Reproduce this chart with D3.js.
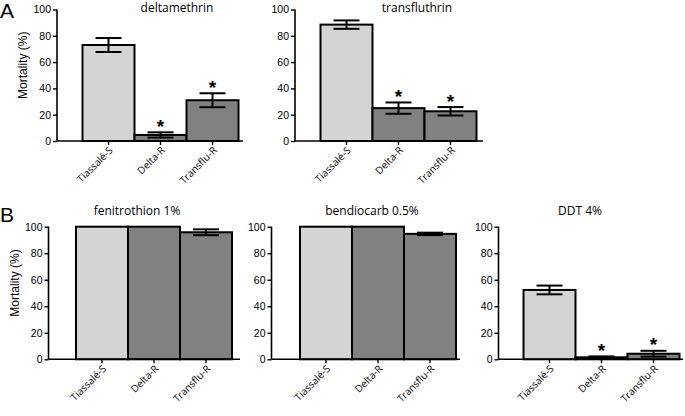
<!DOCTYPE html>
<html><head><meta charset="utf-8">
<script src="https://cdn.jsdelivr.net/npm/d3@7"></script>
<style>body{margin:0;background:#fff}svg{display:block}</style>
</head><body>
<svg id="c" width="685" height="416"></svg>
<script>
// ---- data ----
const groups = ["Tiassalé-S", "Delta-R", "Transflu-R"];
const titles = ["deltamethrin", "transfluthrin", "fenitrothion 1%", "bendiocarb 0.5%", "DDT 4%"];
const yTicks = [0, 20, 40, 60, 80, 100];
const deltamethrinMean = [73, 4.6, 31];
const deltamethrinErr = [5.3, 2, 5.3];
const deltamethrinSig = [false, true, true];
const transfluthrinMean = [88.5, 25, 22.6];
const transfluthrinErr = [3.2, 4.3, 3.2];
const transfluthrinSig = [false, true, true];
const fenitrothionMean = [100, 100, 95.8];
const fenitrothionErr = [0, 0, 2.2];
const fenitrothionSig = [false, false, false];
const bendiocarbMean = [100, 100, 94.6];
const bendiocarbErr = [0, 0, 0.9];
const bendiocarbSig = [false, false, false];
const ddtMean = [52.3, 1.5, 4.2];
const ddtErr = [3.3, 0.7, 2.2];
const ddtSig = [false, true, true];
const groupColors = ["#d4d4d4", "#818181", "#818181"];

const seriesMeans = [deltamethrinMean, transfluthrinMean, fenitrothionMean, bendiocarbMean, ddtMean];
const seriesErrs = [deltamethrinErr, transfluthrinErr, fenitrothionErr, bendiocarbErr, ddtErr];
const seriesSig = [deltamethrinSig, transfluthrinSig, fenitrothionSig, bendiocarbSig, ddtSig];

// ---- layout ----
const layout = [
  {ax: 57, bx: 82.5, end: 243, y0: 141, y1: 9.5, ylab: true, tx: 177, ty: 12},
  {ax: 295, bx: 320.5, end: 483, y0: 141, y1: 9.5, ylab: false, tx: 417, ty: 12},
  {ax: 48.5, bx: 76, end: 240, y0: 359.3, y1: 226.7, ylab: true, tx: 137, ty: 215},
  {ax: 271.5, bx: 300, end: 460, y0: 359.3, y1: 226.7, ylab: false, tx: 372, ty: 215},
  {ax: 498.5, bx: 523.5, end: 683, y0: 359.3, y1: 226.7, ylab: false, tx: 580, ty: 215}
];
const BW = 52;
const svg = d3.select("#c");
const numFont = "'Liberation Sans', Arial, sans-serif";
const txtFont = "'Open Sans', sans-serif";

layout.forEach((L, i) => {
  const g = svg.append("g");
  const x = d3.scaleBand().domain(groups).range([L.bx, L.bx + 3 * BW]).padding(0);
  const y = d3.scaleLinear().domain([0, 100]).range([L.y0, L.y1]);
  const means = seriesMeans[i], errs = seriesErrs[i], sig = seriesSig[i];

  // bars
  g.selectAll("rect.bar").data(groups).join("rect")
    .attr("x", d => x(d)).attr("y", (d, k) => y(means[k]))
    .attr("width", x.bandwidth()).attr("height", (d, k) => y(0) - y(means[k]))
    .attr("fill", (d, k) => groupColors[k]).attr("stroke", "#000").attr("stroke-width", 2);

  // error bars
  groups.forEach((d, k) => {
    if (errs[k] <= 0) return;
    const cx = x(d) + x.bandwidth() / 2;
    const hw = 13;
    const eg = g.append("g").attr("stroke", "#000").attr("stroke-width", 2);
    eg.append("line").attr("x1", cx).attr("x2", cx).attr("y1", y(means[k] + errs[k])).attr("y2", y(means[k] - errs[k]));
    eg.append("line").attr("x1", cx - hw).attr("x2", cx + hw).attr("y1", y(means[k] + errs[k])).attr("y2", y(means[k] + errs[k]));
    eg.append("line").attr("x1", cx - hw).attr("x2", cx + hw).attr("y1", y(means[k] - errs[k])).attr("y2", y(means[k] - errs[k]));
    if (sig[k]) {
      g.append("text").attr("x", cx).attr("y", y(means[k] + errs[k]) + 0.5)
        .attr("text-anchor", "middle").attr("font-family", numFont).attr("font-size", 19)
        .attr("font-weight", "bold").text("*");
    }
  });

  // y axis
  const yAxis = d3.axisLeft(y).tickValues(yTicks).tickSize(4).tickPadding(2);
  const ya = g.append("g").attr("transform", `translate(${L.ax},0)`).call(yAxis);
  ya.select(".domain").attr("stroke-width", 1.6).attr("d", `M0,${L.y1}V${L.y0}`);
  ya.selectAll(".tick line").attr("stroke-width", 1.4);
  ya.selectAll(".tick text").attr("font-family", numFont).attr("font-size", 10.5).attr("fill", "#000");

  // x axis
  const xAxis = d3.axisBottom(x).tickSize(4).tickSizeOuter(0).tickPadding(0);
  const xa = g.append("g").attr("transform", `translate(0,${L.y0})`).call(xAxis);
  xa.select(".domain").attr("stroke-width", 1.6).attr("d", `M${L.ax},0H${L.end}`);
  xa.selectAll(".tick line").attr("stroke-width", 1.4);
  xa.selectAll(".tick text").attr("font-family", txtFont).attr("font-size", 10).attr("fill", "#000")
    .attr("text-anchor", "end").attr("dy", 0)
    .attr("transform", "translate(5,10) rotate(-45)").attr("y", 0).attr("x", 0);

  // title
  g.append("text").attr("x", L.tx).attr("y", L.ty).attr("text-anchor", "middle")
    .attr("font-family", txtFont).attr("font-size", 12).attr("fill", "#000").text(titles[i]);

  if (L.ylab) {
    const cy = (L.y0 + L.y1) / 2 - 10;
    g.append("text").attr("transform", `translate(${L.ax - 30},${cy}) rotate(-90)`)
      .attr("text-anchor", "middle").attr("font-family", numFont).attr("font-size", 12)
      .attr("fill", "#000").text("Mortality (%)");
  }
});

svg.append("text").attr("x", 0).attr("y", 18).attr("font-family", numFont).attr("font-size", 21).text("A");
svg.append("text").attr("x", 0).attr("y", 222).attr("font-family", numFont).attr("font-size", 21).text("B");
</script>
</body></html>
